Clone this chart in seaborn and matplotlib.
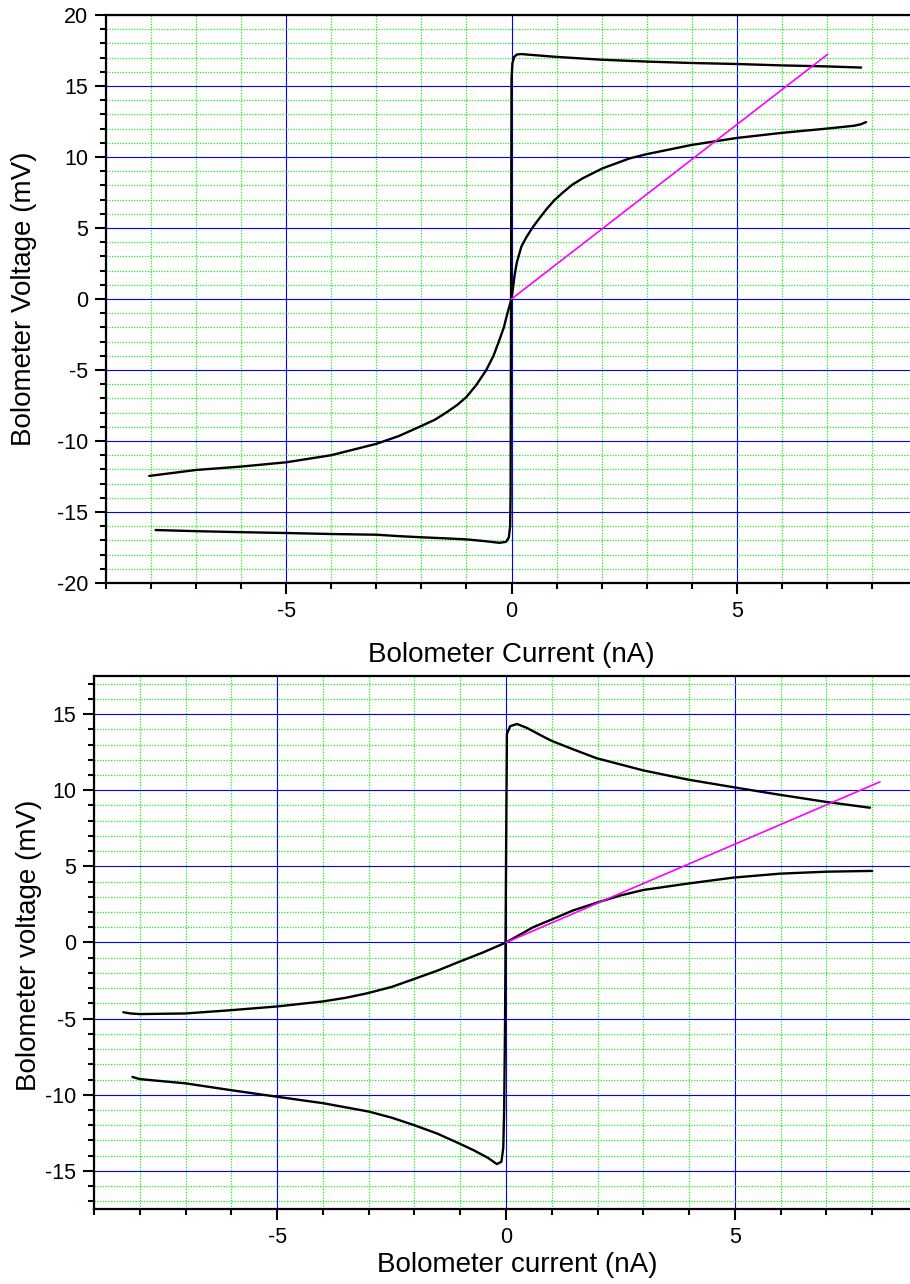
import matplotlib
matplotlib.use("Agg")
import matplotlib.pyplot as plt
import seaborn as sns
import pandas as pd
from matplotlib.ticker import MultipleLocator

# ---------------- data ----------------
# Top panel: hysteretic branch (lower branch -> jump -> upper branch)
top_loop_I = [-7.9, -7.0, -6.0, -5.0, -4.0, -3.0, -2.5, -2.0, -1.5, -1.0, -0.6, -0.27,
              -0.12, -0.06, -0.03, -0.02, -0.01, 0.0, 0.02, 0.06, 0.12, 0.22, 0.4, 1.0,
              2.0, 3.0, 4.0, 5.0, 6.0, 7.0, 7.76]
top_loop_V = [-16.27, -16.35, -16.42, -16.48, -16.55, -16.6, -16.7, -16.78, -16.85, -16.93,
              -17.05, -17.17, -17.1, -16.8, -16.0, -13.7, 0.0, 15.5, 16.6, 17.05, 17.22,
              17.25, 17.2, 17.05, 16.85, 16.72, 16.62, 16.55, 16.45, 16.38, 16.3]
# Top panel: S-shaped curve
top_s_I = [-8.04, -7.0, -6.0, -5.0, -4.0, -3.5, -3.0, -2.5, -2.0, -1.7, -1.45, -1.2, -1.0,
           -0.78, -0.56, -0.4, -0.27, -0.17, -0.09, 0.0, 0.03, 0.07, 0.12, 0.22, 0.33,
           0.47, 0.6, 0.77, 0.95, 1.14, 1.35, 1.58, 2.02, 2.62, 3.0, 4.0, 5.0, 6.0, 7.0,
           7.6, 7.75, 7.87]
top_s_V = [-12.46, -12.04, -11.8, -11.5, -11.0, -10.6, -10.2, -9.65, -8.94, -8.5, -8.0,
           -7.45, -6.9, -6.05, -5.0, -4.0, -2.9, -2.0, -1.0, 0.0, 0.7, 1.7, 2.6, 3.7, 4.35,
           5.05, 5.6, 6.3, 6.95, 7.5, 8.05, 8.5, 9.2, 9.9, 10.2, 10.85, 11.34, 11.7, 12.0,
           12.2, 12.3, 12.46]
# Top panel: load line
top_line_I = [0.0, 7.02]
top_line_V = [0.0, 17.24]

# Bottom panel: hysteretic branch
bot_loop_I = [-8.16, -8.0, -7.0, -6.0, -5.0, -4.0, -3.0, -2.5, -2.0, -1.5, -1.02, -0.7,
              -0.39, -0.2, -0.1, -0.06, -0.04, -0.02, 0.0, 0.02, 0.09, 0.24, 0.45, 0.89,
              1.03, 1.54, 1.98, 3.0, 3.97, 4.96, 5.98, 7.0, 7.95]
bot_loop_V = [-8.83, -8.97, -9.25, -9.7, -10.13, -10.55, -11.1, -11.5, -12.0, -12.55,
              -13.2, -13.65, -14.15, -14.55, -14.4, -13.5, -11.0, -5.0, 5.0, 13.7, 14.2,
              14.35, 14.1, 13.4, 13.2, 12.6, 12.1, 11.3, 10.7, 10.2, 9.7, 9.23, 8.85]
# Bottom panel: S-shaped curve
bot_s_I = [-8.36, -8.2, -8.0, -7.0, -6.03, -5.0, -4.0, -3.5, -3.04, -2.5, -2.03, -1.5,
           -1.05, -0.5, 0.0, 0.59, 1.03, 1.46, 1.99, 2.49, 3.0, 3.95, 4.96, 5.98, 7.0, 8.0]
bot_s_V = [-4.58, -4.66, -4.7, -4.66, -4.45, -4.2, -3.87, -3.63, -3.34, -2.92, -2.42,
           -1.85, -1.3, -0.65, 0.0, 1.0, 1.55, 2.1, 2.62, 3.08, 3.45, 3.86, 4.26, 4.52,
           4.65, 4.7]
# Bottom panel: load line
bot_line_I = [0.0, 8.17]
bot_line_V = [0.0, 10.55]

top_xlabel = "Bolometer Current (nA)"
top_ylabel = "Bolometer Voltage (mV)"
bot_xlabel = "Bolometer current (nA)"
bot_ylabel = "Bolometer voltage (mV)"

# ---------------- style ----------------
sns.set_style("white")
plt.rcParams["font.family"] = ["Liberation Sans", "DejaVu Sans"]
plt.rcParams["axes.unicode_minus"] = False
plt.rcParams["text.color"] = "black"

W, H = 910, 1284
fig = plt.figure(figsize=(W / 100, H / 100), dpi=100)
ax1 = fig.add_axes([106 / W, 1 - 583 / H, 811 / W, 568 / H])
ax2 = fig.add_axes([94 / W, 1 - 1209 / H, 824 / W, 533 / H])


def style(ax, ylim):
    ax.set_xlim(-9, 9)
    ax.set_ylim(*ylim)
    ax.xaxis.set_major_locator(MultipleLocator(5))
    ax.xaxis.set_minor_locator(MultipleLocator(1))
    ax.yaxis.set_major_locator(MultipleLocator(5))
    ax.yaxis.set_minor_locator(MultipleLocator(1))
    ax.grid(which="major", color="#0000ff", lw=0.8, ls="-")
    ax.grid(which="minor", color="#22ee22", lw=0.9, ls=(0, (1, 1.2)))
    ax.set_axisbelow(True)
    for s in ["top", "left", "bottom"]:
        ax.spines[s].set_visible(True)
        ax.spines[s].set_color("black")
        ax.spines[s].set_linewidth(1.6)
    ax.spines["right"].set_visible(False)
    ax.tick_params(which="major", direction="out", length=8, width=1.5, color="black",
                   labelsize=15.5, labelcolor="black", pad=5, left=True, bottom=True,
                   top=False, right=False)
    ax.tick_params(which="minor", direction="out", length=4.5, width=1.5, color="black",
                   left=True, bottom=True, top=False, right=False)
    ax.set_xlabel("")
    ax.set_ylabel("")


def draw(ax, loopI, loopV, sI, sV, lI, lV):
    sns.lineplot(data=pd.DataFrame({"I": loopI, "V": loopV}), x="I", y="V", ax=ax,
                 sort=False, estimator=None, color="black", lw=1.7, zorder=3)
    sns.lineplot(data=pd.DataFrame({"I": sI, "V": sV}), x="I", y="V", ax=ax,
                 sort=False, estimator=None, color="black", lw=1.7, zorder=3)
    sns.lineplot(data=pd.DataFrame({"I": lI, "V": lV}), x="I", y="V", ax=ax,
                 sort=False, estimator=None, color="#ff00ff", lw=1.2, zorder=4)


draw(ax1, top_loop_I, top_loop_V, top_s_I, top_s_V, top_line_I, top_line_V)
draw(ax2, bot_loop_I, bot_loop_V, bot_s_I, bot_s_V, bot_line_I, bot_line_V)
style(ax1, (-20, 20))
style(ax2, (-17.5, 17.5))

fig.text(511 / W, 1 - 655 / H, top_xlabel, ha="center", va="center", fontsize=20,
         color="black")
fig.text(24 / W, 1 - 299 / H, top_ylabel, ha="center", va="center", fontsize=20,
         rotation=90, color="black")
fig.text(517 / W, 1 - 1265 / H, bot_xlabel, ha="center", va="center", fontsize=20,
         color="black")
fig.text(29 / W, 1 - 945 / H, bot_ylabel, ha="center", va="center", fontsize=20,
         rotation=90, color="black")

fig.savefig("out.png", dpi=100)
